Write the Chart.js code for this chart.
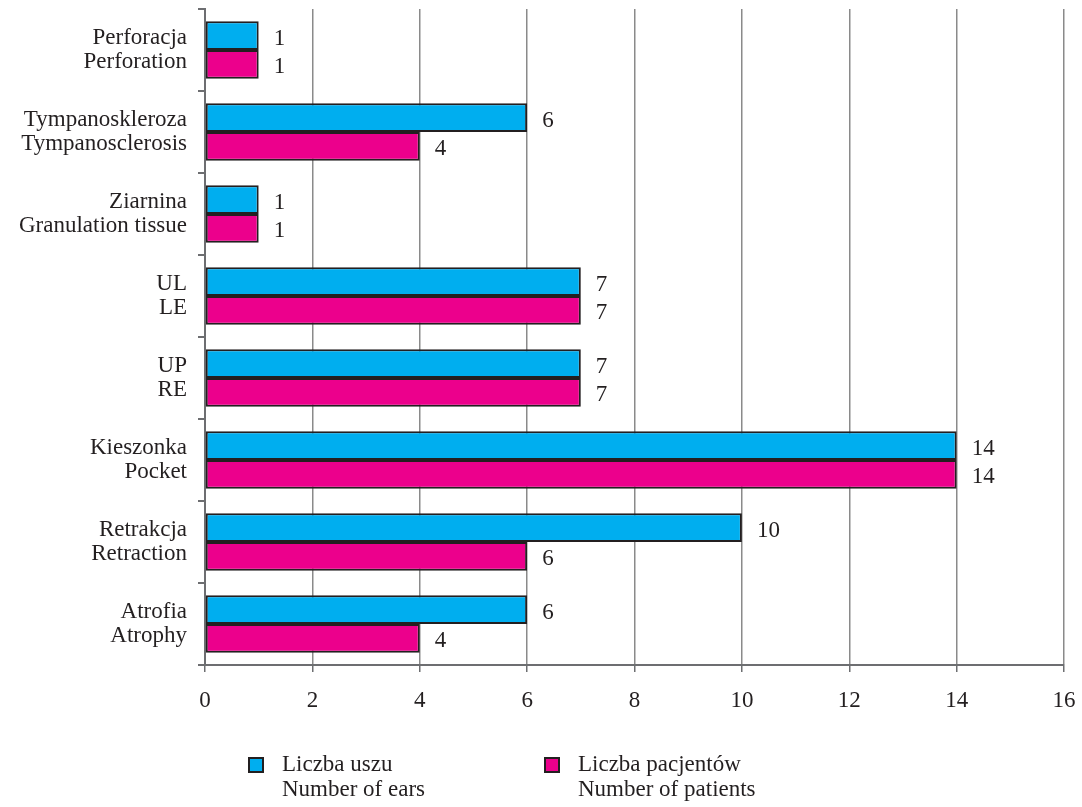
<!DOCTYPE html>
<html>
<head>
<meta charset="utf-8">
<script src="https://cdn.jsdelivr.net/npm/chart.js@4.4.0/dist/chart.umd.min.js"></script>
<style>
  html, body { margin: 0; padding: 0; background: #fff; }
  #wrap { width: 1082px; height: 807px; position: relative; }
</style>
</head>
<body>
<div id="wrap"><canvas id="chart"></canvas></div>
<script>
// Categories, top to bottom (Polish / English)
const categories = [
    ['Perforacja', 'Perforation'],
    ['Tympanoskleroza', 'Tympanosclerosis'],
    ['Ziarnina', 'Granulation tissue'],
    ['UL', 'LE'],
    ['UP', 'RE'],
    ['Kieszonka', 'Pocket'],
    ['Retrakcja', 'Retraction'],
    ['Atrofia', 'Atrophy']
];
const earsValues = [1, 6, 1, 7, 7, 14, 10, 6];
const patientsValues = [1, 4, 1, 7, 7, 14, 6, 4];
const earsLabel = ['Liczba uszu', 'Number of ears'];
const patientsLabel = ['Liczba pacjentów', 'Number of patients'];
const xTicks = [0, 2, 4, 6, 8, 10, 12, 14, 16];

const FONT = '"Liberation Serif", "Times New Roman", serif';
const TEXT = '#231f20';
const GRID = '#8a8a8a';
const AXIS = '#6d6e71';

// values written to the right of each bar
const valueLabels = {
    id: 'valueLabels',
    afterDatasetsDraw(chart) {
        const ctx = chart.ctx;
        ctx.save();
        ctx.font = '23px ' + FONT;
        ctx.fillStyle = TEXT;
        ctx.textAlign = 'left';
        ctx.textBaseline = 'middle';
        chart.data.datasets.forEach((ds, i) => {
            chart.getDatasetMeta(i).data.forEach((bar, j) => {
                ctx.fillText(ds.data[j], bar.x + 15, bar.y + 3);
            });
        });
        ctx.restore();
    }
};

// two-line legend under the axis
const bottomLegend = {
    id: 'bottomLegend',
    afterDraw(chart) {
        const ctx = chart.ctx;
        const starts = [249, 545];
        ctx.save();
        ctx.font = '23px ' + FONT;
        ctx.textBaseline = 'middle';
        ctx.textAlign = 'left';
        chart.data.datasets.forEach((ds, i) => {
            const x = starts[i];
            ctx.fillStyle = ds.backgroundColor;
            ctx.strokeStyle = TEXT;
            ctx.lineWidth = 2;
            ctx.fillRect(x, 758, 14, 14);
            ctx.strokeRect(x, 758, 14, 14);
            ctx.fillStyle = TEXT;
            ds.label.forEach((line, k) => {
                ctx.fillText(line, x + 33, 765 + k * 25);
            });
        });
        ctx.restore();
    }
};

new Chart(document.getElementById('chart'), {
    type: 'bar',
    data: {
        labels: categories,
        datasets: [
            {
                label: earsLabel,
                data: earsValues,
                backgroundColor: '#00aeef',
                borderColor: TEXT,
                borderWidth: 2,
                borderSkipped: false,
                categoryPercentage: 0.7,
                barPercentage: 1.0
            },
            {
                label: patientsLabel,
                data: patientsValues,
                backgroundColor: '#ec008c',
                borderColor: TEXT,
                borderWidth: 2,
                borderSkipped: false,
                categoryPercentage: 0.7,
                barPercentage: 1.0
            }
        ]
    },
    options: {
        indexAxis: 'y',
        responsive: true,
        maintainAspectRatio: false,
        animation: false,
        layout: { padding: { left: 0, top: 9, right: 18, bottom: 0 } },
        plugins: {
            legend: { display: false },
            tooltip: { enabled: false }
        },
        scales: {
            x: {
                min: 0,
                max: 16,
                afterFit(scale) {
                    scale.height = 142;
                    scale.paddingLeft = 0;
                    scale.paddingRight = 0;
                },
                afterBuildTicks(scale) { scale.ticks = xTicks.map(v => ({ value: v })); },
                grid: { color: GRID, lineWidth: 1.5, tickLength: 7, tickColor: AXIS },
                border: { display: true, color: AXIS, width: 2 },
                ticks: {
                    padding: 15,
                    color: TEXT,
                    font: { family: FONT, size: 23 }
                }
            },
            y: {
                afterFit(scale) {
                    scale.width = 205;
                    scale.paddingTop = 0;
                    scale.paddingBottom = 0;
                },
                grid: {
                    drawOnChartArea: false,
                    offset: true,
                    tickLength: 7,
                    color: AXIS,
                    lineWidth: 2
                },
                border: { display: true, color: AXIS, width: 2 },
                ticks: {
                    padding: 11,
                    color: TEXT,
                    font: { family: FONT, size: 23, lineHeight: 1.02 }
                }
            }
        }
    },
    plugins: [valueLabels, bottomLegend]
});
</script>
</body>
</html>
